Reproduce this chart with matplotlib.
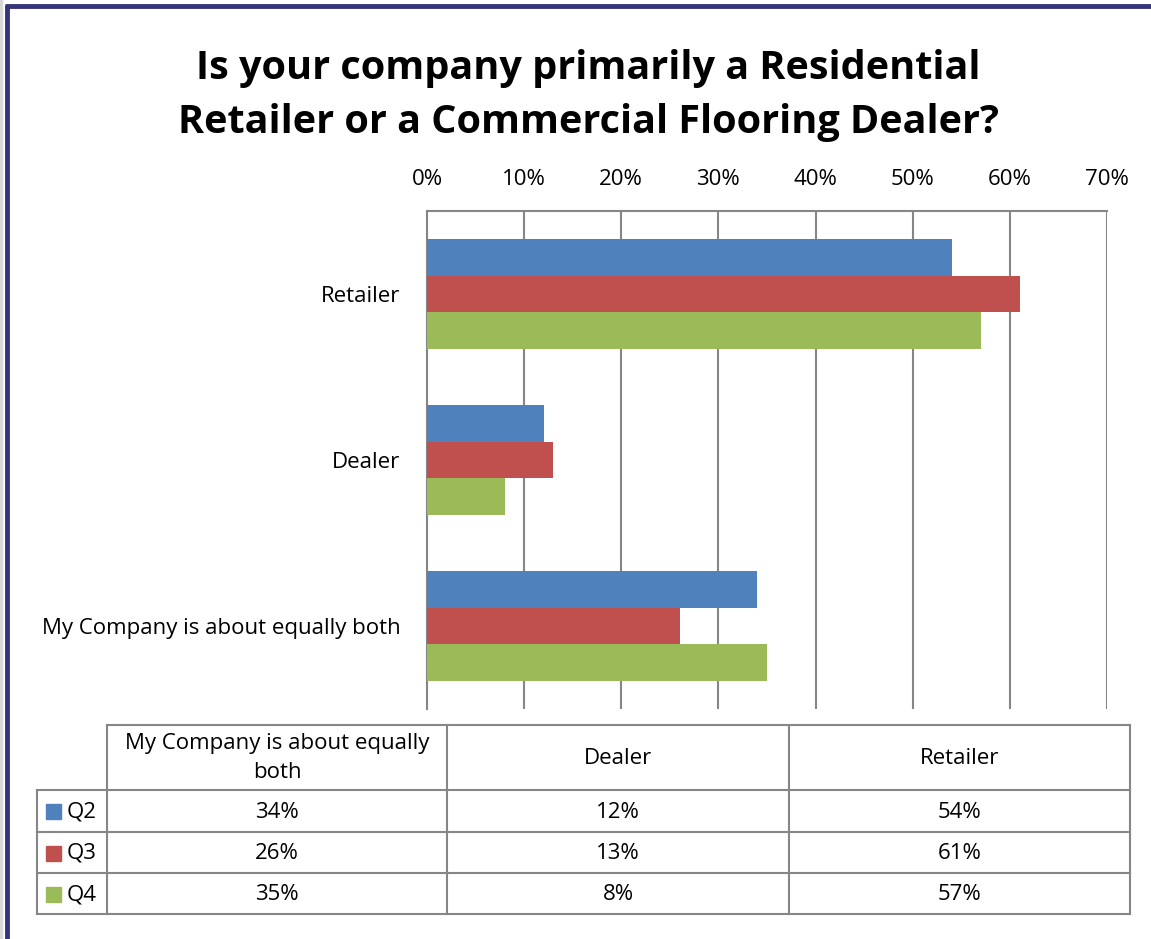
# Import libraries
import numpy as np
import matplotlib.pyplot as plt
from matplotlib.patches import Rectangle
from matplotlib.ticker import PercentFormatter

plt.rcParams['font.family'] = ['Open Sans', 'DejaVu Sans']

# Data
categories = ['Retailer', 'Dealer', 'My Company is about equally both']
series = ['Q2', 'Q3', 'Q4']
q2 = [54, 12, 34]
q3 = [61, 13, 26]
q4 = [57, 8, 35]
colors = ['#4F81BD', '#C0504D', '#9BBB59']
table_headers = ['My Company is about equally\nboth', 'Dealer', 'Retailer']
ticks = [0, 10, 20, 30, 40, 50, 60, 70]

W, H = 1151, 939
fs = 16
fig = plt.figure(figsize=(W / 100, H / 100), dpi=100)

# Bar chart
ax = fig.add_axes([427 / W, 1 - 709 / H, 680 / W, 498 / H])
y = np.arange(len(categories))
h = 0.22
for i, (vals, c) in enumerate(zip([q2, q3, q4], colors)):
    ax.barh(y + (i - 1) * h, vals, height=h, color=c, zorder=3)

ax.set_xlim(0, 70)
ax.set_ylim(2.5, -0.5)
ax.set_xticks(ticks)
ax.xaxis.set_major_formatter(PercentFormatter(decimals=0))
ax.xaxis.tick_top()
ax.tick_params(axis='x', length=0, pad=15, labelsize=fs)
ax.set_yticks(y)
ax.set_yticklabels(categories, fontsize=fs)
ax.tick_params(axis='y', length=0, pad=19)
ax.grid(axis='x', color='#868686', linewidth=1.5, zorder=0)
for s in ['right', 'bottom']:
    ax.spines[s].set_visible(False)
for s in ['top', 'left']:
    ax.spines[s].set_color('#868686')
    ax.spines[s].set_linewidth(1.5)

# Title
fig.text(588 / W, 1 - 96 / H, 'Is your company primarily a Residential\nRetailer or a Commercial Flooring Dealer?',
         ha='center', va='center', fontsize=28.5, fontweight='bold', linespacing=1.5)

# Overlay in pixel coordinates for the data table and border
ov = fig.add_axes([0, 0, 1, 1])
ov.set_xlim(0, W)
ov.set_ylim(H, 0)
ov.axis('off')
ov.patch.set_alpha(0)

gc = '#868686'
col_x = [107, 447, 789, 1130]
row_y = [725, 790, 832, 873, 914]
lab_x = 37
# header row
ov.plot([col_x[0], col_x[-1]], [row_y[0], row_y[0]], color=gc, lw=1.5)
for yy in row_y[1:]:
    ov.plot([lab_x, col_x[-1]], [yy, yy], color=gc, lw=1.5)
for xx in col_x:
    ov.plot([xx, xx], [row_y[0], row_y[-1]], color=gc, lw=1.5)
ov.plot([lab_x, lab_x], [row_y[1], row_y[-1]], color=gc, lw=1.5)

for j, txt in enumerate(table_headers):
    ov.text((col_x[j] + col_x[j + 1]) / 2, (row_y[0] + row_y[1]) / 2 + 1, txt,
            ha='center', va='center', fontsize=fs, linespacing=1.5)

# table columns are in reverse category order
table_order = [2, 1, 0]
for i, (name, vals, c) in enumerate(zip(series, [q2, q3, q4], colors)):
    yc = (row_y[i + 1] + row_y[i + 2]) / 2 + 1
    ov.add_patch(Rectangle((46, yc - 8), 15, 15, color=c))
    ov.text(67, yc, name, ha='left', va='center', fontsize=fs)
    for j, k in enumerate(table_order):
        ov.text((col_x[j] + col_x[j + 1]) / 2, yc, f'{vals[k]}%',
                ha='center', va='center', fontsize=fs)

# Border
ov.plot([1.5, 1.5], [0, H], color='#D9D9D9', lw=2.5)
ov.plot([7, 7], [5, H], color='#35357A', lw=3.5, solid_capstyle='butt')
ov.plot([5, W], [5.5, 5.5], color='#35357A', lw=3.5, solid_capstyle='butt')

fig.savefig('out.png', dpi=100)
